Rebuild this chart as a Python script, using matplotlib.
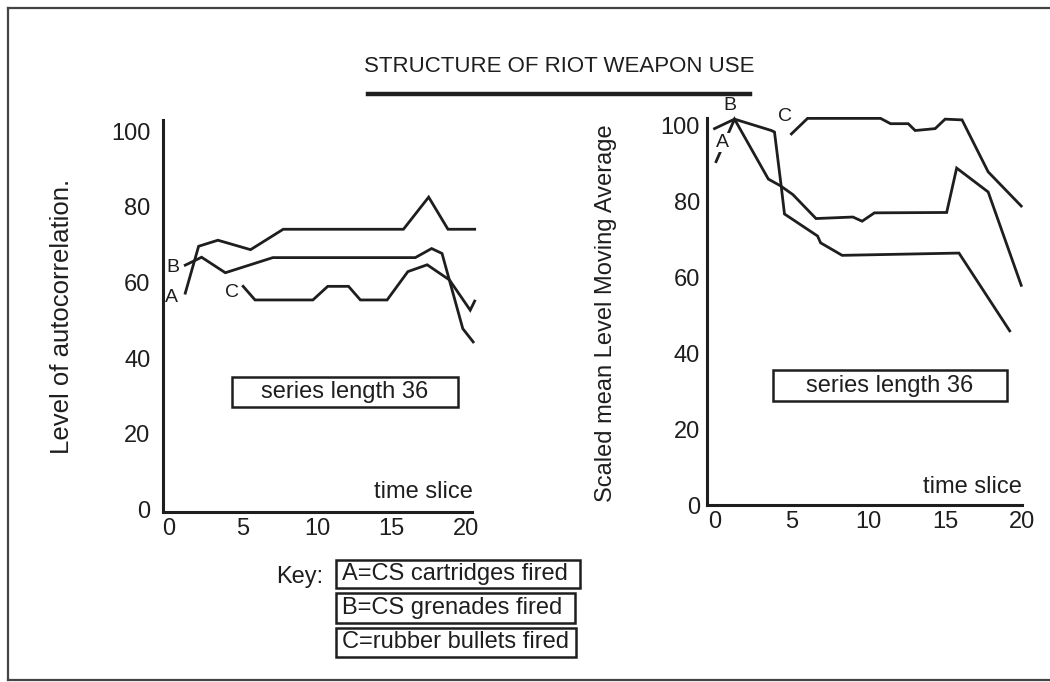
import matplotlib
matplotlib.use("Agg")
import matplotlib.pyplot as plt
from matplotlib.patches import Rectangle
from matplotlib.lines import Line2D

plt.rcParams['font.family'] = ['Liberation Sans', 'DejaVu Sans']

# ---------------- data ----------------
title = "STRUCTURE OF RIOT WEAPON USE"
x_ticks = [0, 5, 10, 15, 20]
y_ticks = [0, 20, 40, 60, 80, 100]
x_label = "time slice"
left_ylabel = "Level of autocorrelation."
right_ylabel = "Scaled mean Level Moving Average"
box_text = "series length 36"
key_title = "Key:"
key_items = ["A=CS cartridges fired", "B=CS grenades fired", "C=rubber bullets fired"]
series_names = ["A", "B", "C"]

# left panel: level of autocorrelation
la_x = [1.1, 2.0, 3.3, 5.5, 7.7, 15.8, 17.5, 18.8, 20.6]
la_y = [57.2, 69.6, 71.2, 68.7, 74.1, 74.1, 82.6, 74.1, 74.1]
lb_x = [1.1, 2.2, 3.8, 7.0, 16.6, 17.7, 18.4, 19.8, 20.5]
lb_y = [64.6, 66.7, 62.6, 66.6, 66.6, 69.0, 67.7, 47.8, 44.3]
lc_x = [5.0, 5.8, 9.7, 10.7, 12.1, 12.9, 14.7, 16.1, 17.4, 18.9, 20.3, 20.6]
lc_y = [59.0, 55.4, 55.4, 59.0, 59.0, 55.4, 55.4, 62.9, 64.7, 60.7, 52.7, 55.1]

# right panel: scaled mean level moving average
ra_x = [0.1, 1.3, 3.5, 4.3, 5.1, 6.6, 9.0, 9.6, 10.4, 15.1, 15.75, 17.8, 19.95]
ra_y = [90.5, 101.7, 85.9, 84.1, 81.8, 75.5, 75.9, 74.8, 77.0, 77.1, 88.8, 82.5, 57.9]
rb_x = [0.0, 1.3, 3.7, 3.9, 4.35, 4.55, 6.7, 6.9, 8.3, 15.9, 19.2]
rb_y = [99.2, 101.7, 98.7, 98.3, 83.6, 76.7, 70.9, 69.1, 65.8, 66.4, 45.9]
rc_x = [5.0, 6.05, 10.8, 11.45, 12.6, 13.05, 14.35, 15.0, 16.1, 17.8, 19.95]
rc_y = [97.8, 101.9, 101.9, 100.5, 100.5, 98.7, 99.2, 101.7, 101.5, 87.8, 78.8]

# ---------------- layout ----------------
W, H = 1050, 682
INK = "#1e1e1e"
FS = 17

fig = plt.figure(figsize=(W / 100, H / 100), dpi=100)
fig.patch.set_facecolor("white")


def rect(l, t, r, b):
    return [l / W, 1 - b / H, (r - l) / W, (b - t) / H]


def fxy(px, py):
    return px / W, 1 - py / H


def style(ax, ypad):
    for s in ["top", "right"]:
        ax.spines[s].set_visible(False)
    for s in ["left", "bottom"]:
        ax.spines[s].set_linewidth(2.2)
        ax.spines[s].set_color(INK)
    ax.set_xticks(x_ticks)
    ax.set_yticks(y_ticks)
    ax.tick_params(axis="both", length=0, labelsize=FS, colors=INK)
    ax.tick_params(axis="x", pad=4)
    ax.tick_params(axis="y", pad=ypad)
    ax.set_facecolor("none")


lw = 2.0
ax1 = fig.add_axes(rect(163, 120, 472, 512))
ax1.set_xlim(-0.40, 20.42)
ax1.set_ylim(-0.69, 103.0)
style(ax1, 9)
for xs, ys in [(la_x, la_y), (lb_x, lb_y), (lc_x, lc_y)]:
    ax1.plot(xs, ys, color=INK, lw=lw, clip_on=False, solid_joinstyle="miter")
ax1.text(0.2, 56.0, series_names[0], fontsize=14, ha="center", va="center", color=INK)
ax1.text(0.27, 63.9, series_names[1], fontsize=14, ha="center", va="center", color=INK)
ax1.text(4.25, 57.3, series_names[2], fontsize=14, ha="center", va="center", color=INK)

ax2 = fig.add_axes(rect(707, 118, 1022, 505))
ax2.set_xlim(-0.49, 19.87)
ax2.set_ylim(0.0, 102.0)
style(ax2, 5)
for xs, ys in [(ra_x, ra_y), (rb_x, rb_y), (rc_x, rc_y)]:
    ax2.plot(xs, ys, color=INK, lw=lw, clip_on=False, solid_joinstyle="miter")
ax2.text(0.5, 95.5, series_names[0], fontsize=14, ha="center", va="center", color=INK,
         bbox=dict(boxstyle="square,pad=0.05", fc="white", ec="none"), zorder=5)
ax2.text(1.0, 105.4, series_names[1], fontsize=14, ha="center", va="center", color=INK)
ax2.text(4.6, 102.3, series_names[2], fontsize=14, ha="center", va="center", color=INK)

# axis labels
fig.text(*fxy(473, 492), x_label, fontsize=FS, ha="right", va="center", color=INK)
fig.text(*fxy(1022, 487), x_label, fontsize=FS, ha="right", va="center", color=INK)
fig.text(*fxy(62, 316), left_ylabel, fontsize=18.5, rotation=90, ha="center", va="center", color=INK)
fig.text(*fxy(606, 313), right_ylabel, fontsize=17, rotation=90, ha="center", va="center", color=INK)

# title with underline
fig.text(*fxy(559, 67), title, fontsize=16, ha="center", va="center", color=INK)
fig.add_artist(Line2D([368 / W, 750 / W], [1 - 94 / H, 1 - 94 / H], color=INK, lw=3.2))


def boxed(l, t, r, b, text, ha="center"):
    fig.add_artist(Rectangle((l / W, 1 - b / H), (r - l) / W, (b - t) / H,
                             fill=False, ec=INK, lw=1.8, transform=fig.transFigure))
    if ha == "center":
        fig.text(*fxy((l + r) / 2, (t + b) / 2), text, fontsize=FS, ha="center",
                 va="center", color=INK)
    else:
        fig.text(*fxy(l + 6, (t + b) / 2), text, fontsize=FS, ha="left",
                 va="center", color=INK)


boxed(232, 377, 458, 407, box_text)
boxed(773, 370, 1007, 401, box_text)

fig.text(*fxy(300, 577), key_title, fontsize=FS, ha="center", va="center", color=INK)
key_rows = [(560, 588), (593, 623), (628, 657)]
key_right = [580, 575, 576]
for (t, b), r, item in zip(key_rows, key_right, key_items):
    boxed(336, t, r, b, item, ha="left")

# outer frame
for xs, ys in [([8, 1050], [8, 8]), ([8, 8], [8, 680]), ([8, 1050], [680, 680])]:
    fig.add_artist(Line2D([v / W for v in xs], [1 - v / H for v in ys], color="#444444", lw=1.6))

fig.savefig("out.png", dpi=100, facecolor="white")
